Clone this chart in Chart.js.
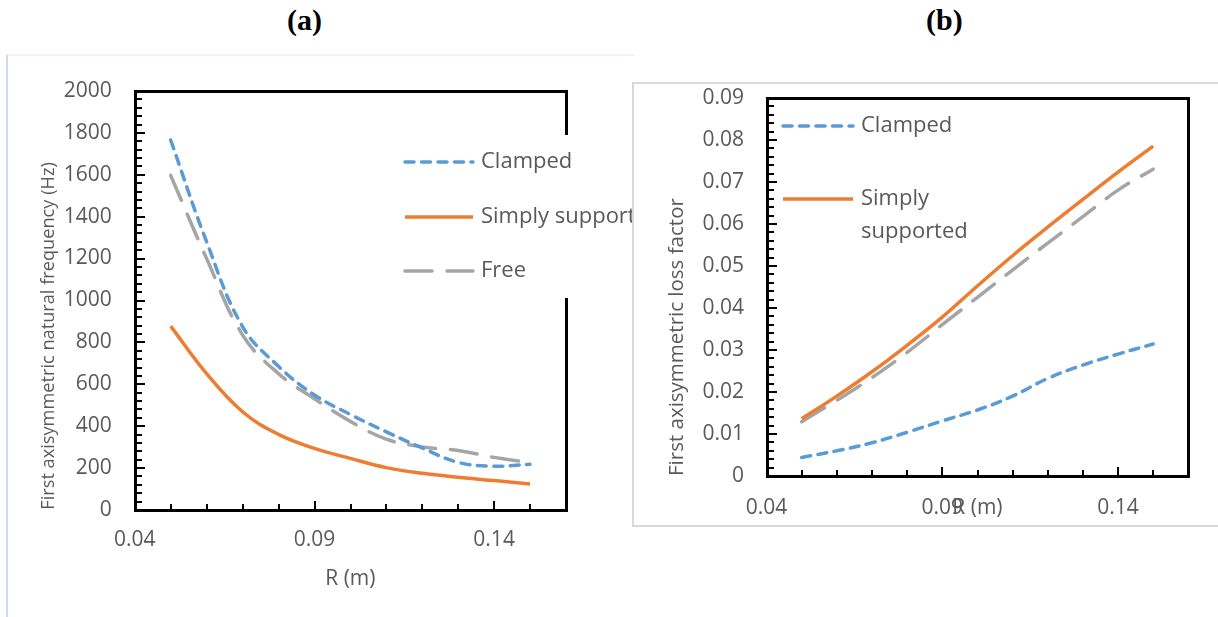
<!DOCTYPE html>
<html><head><meta charset="utf-8">
<script src="https://cdn.jsdelivr.net/npm/chart.js@4.4.1/dist/chart.umd.min.js"></script>
<style>
body{margin:0;background:#fff;width:1218px;height:617px;overflow:hidden;position:relative;font-family:'Open Sans',sans-serif}
.t{position:absolute;top:3px;font:bold 30px 'Liberation Serif',serif;color:#000}
canvas{position:absolute;top:0}
#frameA{position:absolute;left:6px;top:54px;width:627px;height:570px;border-top:2px solid #eef4fb;border-left:2px solid #c9dcf1}
#frameB{position:absolute;left:632px;top:82px;width:600px;height:441px;border:2px solid #d9d9d9}
</style></head><body>
<div id="frameA"></div>
<div id="frameB"></div>
<div class="t" style="left:287px">(a)</div>
<div class="t" style="left:926px">(b)</div>
<canvas id="ca" width="632" height="617" style="left:0"></canvas>
<canvas id="cb" width="618" height="617" style="left:600px"></canvas>
<script>
// ---- data ----
const radius = [0.05, 0.06, 0.07, 0.08, 0.09, 0.10, 0.11, 0.12, 0.13, 0.14, 0.15];
const seriesNames = ['Clamped', 'Simply supported', 'Free'];
const freqClamped = [1766, 1280, 875, 685, 548, 455, 372, 295, 226, 208, 217];
const freqSimply  = [877, 650, 468, 360, 293, 245, 201, 174, 155, 139, 123];
const freqFree    = [1597, 1200, 835, 650, 530, 422, 337, 300, 283, 250, 225];
const lossClamped = [0.0044, 0.0060, 0.0079, 0.0104, 0.0131, 0.0157, 0.0190, 0.0232, 0.0264, 0.0290, 0.0314];
const lossSimply  = [0.0136, 0.0190, 0.0248, 0.0311, 0.0378, 0.0452, 0.0524, 0.0592, 0.0658, 0.0723, 0.0785];
const lossFree    = [0.0129, 0.0180, 0.0234, 0.0294, 0.0360, 0.0425, 0.0490, 0.0554, 0.0617, 0.0680, 0.0730];
const xTickLabels = [0.04, 0.09, 0.14];
const freqTicks = [0, 200, 400, 600, 800, 1000, 1200, 1400, 1600, 1800, 2000];
const lossTicks = [0, 0.01, 0.02, 0.03, 0.04, 0.05, 0.06, 0.07, 0.08, 0.09];

const TXT = '#595959';
const FONT = "'Open Sans'";
const styles = [
  {color:'#5B9BD5', dash:[9,7.5]},
  {color:'#ED7D31', dash:[]},
  {color:'#A5A5A5', dash:[27,15]}
];
function pts(arr){ return radius.map((x,i)=>({x:x, y:arr[i]})); }
function ds(arr, i){
  return {label: seriesNames[i], data: pts(arr), borderColor: styles[i].color, borderWidth: 3.5,
    borderDash: styles[i].dash, borderCapStyle: styles[i].dash.length ? 'round' : 'butt',
    pointRadius: 0, tension: 0.4, fill: false};
}

function decoPlugin(cfg){
  return {
    id: 'deco',
    afterDraw(chart){
      const ctx = chart.ctx, a = chart.chartArea;
      const L = Math.round(a.left), R = Math.round(a.right), T = Math.round(a.top), B = Math.round(a.bottom);
      ctx.save();
      ctx.setTransform(1, 0, 0, 1, 0, 0);
      ctx.globalAlpha = 1;
      ctx.setLineDash([]);
      ctx.fillStyle = '#000000';
      // frame
      ctx.fillRect(L - 1, T - 1, R - L + 3, 3);
      ctx.fillRect(L - 1, B - 1, R - L + 3, 3);
      ctx.fillRect(L - 1, T - 1, 3, B - T + 3);
      ctx.fillRect(R - 1, T - 1, 3, B - T + 3);
      // inward ticks (evenly spaced along the axes)
      const ny = cfg.yMinorCount;
      for (let k = 0; k <= ny; k++) {
        const y = Math.round(B - k * (B - T) / ny);
        const major = (k % cfg.yMajorEvery) === 0;
        ctx.fillRect(L + 1, y - 1, major ? 9 : 6, 2);
      }
      const nx = 12;
      for (let k = 0; k <= nx; k++) {
        const x = Math.round(L + k * (R - L) / nx);
        const major = (k % 5) === 0;
        const h = major ? 8 : 5;
        ctx.fillRect(x - 1, B - 1 - h, 2, h);
      }
      // legend box
      if (cfg.box) { ctx.fillStyle = '#ffffff'; ctx.fillRect(cfg.box[0], cfg.box[1], cfg.box[2], cfg.box[3]); }
      // legend items
      cfg.legend.forEach(it => {
        const d = chart.data.datasets[it.i];
        ctx.strokeStyle = d.borderColor; ctx.lineWidth = d.borderWidth;
        ctx.setLineDash(d.borderDash); ctx.lineCap = d.borderCapStyle;
        ctx.beginPath(); ctx.moveTo(it.x1, it.y); ctx.lineTo(it.x2, it.y); ctx.stroke();
        ctx.setLineDash([]);
        ctx.fillStyle = TXT; ctx.font = '22px ' + FONT; ctx.textBaseline = 'middle'; ctx.textAlign = 'left';
        const lines = it.lines || [d.label];
        lines.forEach((s, j) => ctx.fillText(s, it.tx, it.y + j * 33));
      });
      ctx.restore();
    }
  };
}

function makeChart(id, datasets, yOpts, geo, deco){
  return new Chart(document.getElementById(id), {
    type: 'line',
    data: {datasets},
    options: {
      responsive: false, animation: false, devicePixelRatio: 1,
      layout: {padding: {left: 0, top: geo.top, right: geo.right, bottom: 0}},
      plugins: {legend: {display: false}, tooltip: {enabled: false}},
      scales: {
        x: {type: 'linear', min: 0.04, max: 0.16,
          grid: {display: false, drawTicks: false}, border: {display: false},
          afterBuildTicks: s => { s.ticks = xTickLabels.map(v => ({value: v})); },
          afterFit: s => { s.height = geo.xH; },
          ticks: {autoSkip: false, maxRotation: 0, padding: geo.xPad, color: TXT,
            font: {family: FONT, size: 21}, callback: v => Number(v).toFixed(2)},
          title: {display: true, text: 'R (m)', color: TXT, font: {family: FONT, size: 21},
            padding: {top: 0, bottom: geo.xTitleB}}
        },
        y: {type: 'linear', min: yOpts.min, max: yOpts.max,
          grid: {display: false, drawTicks: false}, border: {display: false},
          afterBuildTicks: s => { s.ticks = yOpts.ticks.map(v => ({value: v})); },
          afterFit: s => { s.width = geo.yW; },
          ticks: {autoSkip: false, padding: geo.yPad, color: TXT,
            font: {family: FONT, size: 21}, callback: yOpts.fmt},
          title: {display: true, text: yOpts.title, color: TXT, align: 'start',
            font: {family: FONT, size: yOpts.titleSize},
            padding: {top: geo.yTitleT, bottom: 0}}
        }
      }
    },
    plugins: [decoPlugin(deco)]
  });
}

makeChart('ca',
  [ds(freqClamped,0), ds(freqSimply,1), ds(freqFree,2)],
  {min: 0, max: 2000, ticks: freqTicks, fmt: v => String(v),
   title: 'First axisymmetric natural frequency (Hz)', titleSize: 18.2},
  {top: 91, right: 66, xH: 107.3, yW: 134.7, xPad: 17.7, xTitleB: 25.4, yPad: 23, yTitleT: 38.1},
  {yMinorCount: 50, yMajorEvery: 5, box: [400, 135, 240, 163],
   legend: [{i:0, x1:405, x2:473, tx:481, y:162}, {i:1, x1:405, x2:473, tx:481, y:217}, {i:2, x1:405, x2:473, tx:481, y:271}]}
);

makeChart('cb',
  [ds(lossClamped,0), ds(lossSimply,1), ds(lossFree,2)],
  {min: 0, max: 0.09, ticks: lossTicks, fmt: v => (v === 0 ? '0' : Number(v).toFixed(2)),
   title: 'First axisymmetric loss factor', titleSize: 20.5},
  {top: 97.7, right: 29.7, xH: 141, yW: 166.5, xPad: 19.4, xTitleB: 96.4, yPad: 22.5, yTitleT: 64.7},
  {yMinorCount: 45, yMajorEvery: 5, box: null,
   legend: [{i:0, x1:183, x2:253, tx:261, y:126}, {i:1, x1:183, x2:253, tx:261, y:199, lines:['Simply','supported']}]}
);
</script>
</body></html>
